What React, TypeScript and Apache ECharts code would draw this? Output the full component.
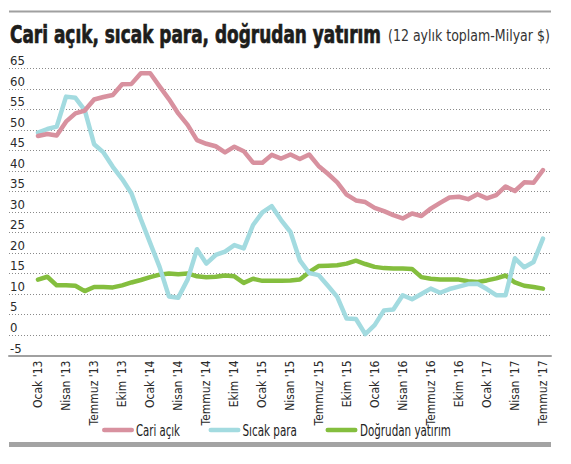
import React, { useEffect, useRef } from "react";
import * as echarts from "echarts";

// Months Jan 2013 .. Jul 2017 (55 monthly points)
const monthNames = ["Ocak", "Şubat", "Mart", "Nisan", "Mayıs", "Haziran", "Temmuz", "Ağustos", "Eylül", "Ekim", "Kasım", "Aralık"];
const years = ["13", "14", "15", "16", "17"];
const categories: string[] = [];
years.forEach((y) => monthNames.forEach((m) => categories.push(`${m} '${y}`)));
categories.length = 55;

const tickIndices = [0, 3, 6, 9, 12, 15, 18, 21, 24, 27, 30, 33, 36, 39, 42, 45, 48, 51, 54];

const cariAcik = [
  48.5, 49.0, 48.6, 52.0, 54.0, 54.7, 57.4, 58.0, 58.5, 61.1, 61.2, 63.8,
  63.8, 60.6, 57.5, 54.0, 51.2, 47.5, 46.6, 46.0, 44.5, 45.9, 44.8, 42.0,
  42.0, 43.9, 43.0, 44.0, 42.9, 44.0, 41.2, 39.3, 37.2, 34.2, 32.8, 32.4,
  31.0, 30.2, 29.2, 28.4, 29.6, 29.0, 30.8, 32.2, 33.5, 33.7, 33.1, 34.3,
  33.3, 34.1, 36.2, 35.1, 37.2, 37.1, 40.2,
];

const sicakPara = [
  49.3, 50.2, 50.8, 58.1, 57.8, 54.8, 46.5, 44.5, 41.0, 38.0, 34.5, 28.2,
  22.4, 16.6, 9.4, 9.1, 13.5, 20.9, 17.4, 19.5, 20.3, 21.9, 21.1, 26.8,
  29.9, 31.4, 28.0, 25.1, 18.2, 15.1, 14.6, 12.0, 9.3, 4.0, 3.9, 0.2,
  2.4, 6.0, 6.2, 9.7, 8.7, 10.0, 11.3, 10.3, 11.2, 11.8, 12.4, 12.5,
  11.2, 9.7, 9.7, 18.7, 16.5, 17.8, 23.5,
];

const dogrudanYatirim = [
  13.5, 14.2, 12.1, 12.1, 12.0, 10.7, 11.7, 11.7, 11.6, 12.1, 12.8, 13.4,
  14.1, 14.7, 15.0, 14.8, 15.0, 14.3, 14.1, 14.2, 14.5, 14.3, 12.7, 13.7,
  13.2, 13.2, 13.2, 13.3, 13.5, 15.3, 16.8, 16.9, 17.0, 17.4, 18.1, 17.3,
  16.6, 16.3, 16.2, 16.2, 16.1, 14.1, 13.7, 13.5, 13.5, 13.5, 13.1, 12.9,
  13.3, 13.8, 14.5, 12.8, 12.0, 11.7, 11.3,
];

const seriesNames = ["Cari açık", "Sıcak para", "Doğrudan yatırım"];
const seriesColors = ["#d8919f", "#a3dbe0", "#84be3e"];

const titleText = "Cari açık, sıcak para, doğrudan yatırım";
const subtitleText = "(12 aylık toplam-Milyar $)";

const FONT_NAME = "'Liberation Sans Narrow', 'DejaVu Sans Condensed', 'DejaVu Sans', sans-serif";

function measure(text: string, size: number, weight: string): number {
  const ctx = document.createElement("canvas").getContext("2d");
  if (!ctx) return text.length * size * 0.5;
  ctx.font = `${weight} ${size}px ${FONT_NAME}`;
  return ctx.measureText(text).width;
}

// text placed at x with its width squeezed to `target` pixels
function fitText(text: string, x: number, y: number, size: number, weight: string, target: number, fill: string, strokeW = 0) {
  const w = measure(text, size, weight);
  return {
    type: "text",
    x,
    y,
    scaleX: target / w,
    style: {
      text,
      fontFamily: FONT_NAME,
      fontSize: size,
      fontWeight: weight,
      fill,
      stroke: strokeW > 0 ? fill : undefined,
      lineWidth: strokeW,
      align: "left",
      verticalAlign: "middle",
    },
  };
}

export default function App() {
  const ref = useRef<HTMLDivElement>(null);
  useEffect(() => {
    if (!ref.current) return;
    const chart = echarts.init(ref.current, undefined, { renderer: "svg" });
    const allSeries = [cariAcik, sicakPara, dogrudanYatirim];

    const legendLayout = [
      { lineX: 102, textX: 136, textW: 44 },
      { lineX: 208.5, textX: 242.5, textW: 54.5 },
      { lineX: 325.5, textX: 360, textW: 91 },
    ];
    const legendGraphics: any[] = [];
    seriesNames.forEach((name, k) => {
      const L = legendLayout[k];
      legendGraphics.push({
        type: "rect",
        x: L.lineX,
        y: 427.8,
        shape: { width: 32, height: 4.5, r: 2.25 },
        style: { fill: seriesColors[k] },
      });
      legendGraphics.push(fitText(name, L.textX, 430.5, 15, "normal", L.textW, "#222"));
    });

    chart.setOption({
      animation: false,
      backgroundColor: "#ffffff",
      textStyle: { fontFamily: FONT_NAME },
      grid: { left: 9, right: 20, top: 68.3, bottom: 108.5, containLabel: false },
      xAxis: {
        type: "value",
        min: -3.1,
        max: 54.86,
        splitLine: { show: false },
        axisTick: { show: false },
        axisLine: { show: true, onZero: false, lineStyle: { color: "#a0a0a0", width: 2 } },
        axisLabel: {
          customValues: tickIndices,
          rotate: 90,
          margin: 5,
          fontSize: 12,
          color: "#2a2a2a",
          fontFamily: FONT_NAME,
          formatter: (v: number) => categories[Math.round(v)] ?? "",
        },
      },
      yAxis: {
        type: "value",
        min: -5,
        max: 65,
        interval: 5,
        axisLine: { show: false },
        axisTick: { show: false },
        splitLine: { show: true, lineStyle: { color: "#8a8a8a", width: 1, type: [1, 2] } },
        axisLabel: {
          inside: true,
          margin: 1,
          verticalAlign: "bottom",
          align: "left",
          fontSize: 13,
          color: "#2a2a2a",
          fontFamily: FONT_NAME,
          padding: [0, 0, 1, 0],
        },
      },
      series: allSeries.map((arr, k) => ({
        name: seriesNames[k],
        type: "line",
        data: arr.map((v, i) => [i, v]),
        symbol: "none",
        color: seriesColors[k],
        lineStyle: { width: 4.5, color: seriesColors[k], cap: "round", join: "round" },
        z: 3 - k,
      })),
      graphic: [
        { type: "rect", x: 9, y: 10.5, shape: { width: 542, height: 2 }, style: { fill: "#a0a0a0" } },
        fitText(titleText, 10, 34.5, 24, "bold", 371, "#1d1d1b", 0.7),
        fitText(subtitleText, 388, 36, 15, "normal", 162, "#333333"),
        { type: "rect", x: 9, y: 442, shape: { width: 542, height: 5 }, style: { fill: "#a3a3a3" } },
        ...legendGraphics,
      ],
    });
    return () => chart.dispose();
  }, []);
  return <div ref={ref} style={{ position: "fixed", left: 0, top: 0, width: 571, height: 464 }} />;
}
